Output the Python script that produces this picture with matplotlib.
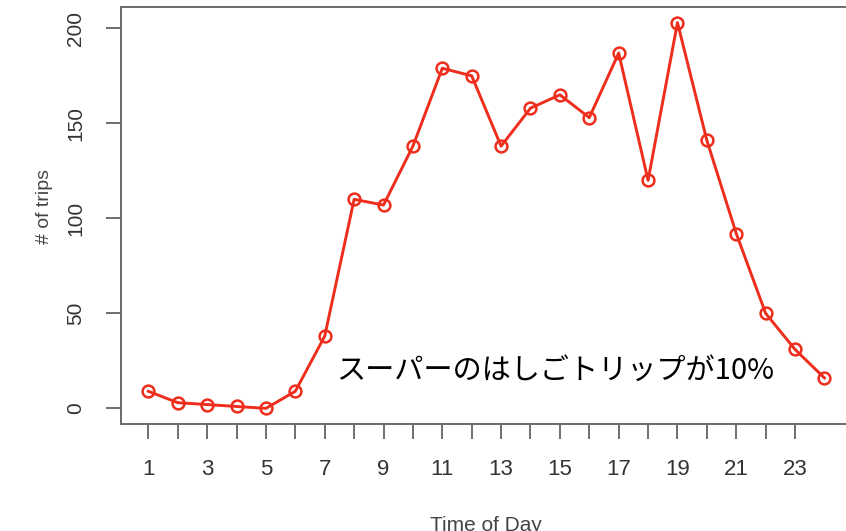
import matplotlib
matplotlib.use("Agg")
import matplotlib.pyplot as plt

# Trips by hour of day
hours = list(range(1, 25))
trips = [9, 3, 2, 1, 0, 9, 38, 110, 107, 138, 179, 175, 138, 158,
         165, 153, 187, 120, 203, 141, 92, 50, 31, 16]
xticks = list(range(1, 24))
xlabels = [str(h) if h % 2 == 1 else "" for h in xticks]
yticks = [0, 50, 100, 150, 200]
ylabels = ["0", "50", "100", "150", "200"]
note = "スーパーのはしごトリップが10%"
xtitle = "Time of Day"
ytitle = "# of trips"

W, H = 846, 531
fig = plt.figure(figsize=(W / 100, H / 100), dpi=100)
fig.patch.set_facecolor("white")

left_px, right_px, top_px, bottom_px = 121.3, 851.5, 7.2, 423.8
ax = fig.add_axes([left_px / W, 1 - bottom_px / H,
                   (right_px - left_px) / W, (bottom_px - top_px) / H])
ax.set_xlim(0.08, 24.92)
ax.set_ylim(-8.12, 211.12)

red = "#ee2d1c"
ax.plot(hours, trips, color=red, lw=2.1, marker="o", ms=8.5, mfc="none",
        mec=red, mew=1.8, zorder=3)

for s in ax.spines.values():
    s.set_color("#6a6a6a")
    s.set_linewidth(1.4)

ax.set_xticks(xticks)
ax.set_xticklabels(xlabels)
ax.set_yticks(yticks)
ax.set_yticklabels(ylabels, rotation=90, va="center")
ax.tick_params(axis="both", length=11, width=1.2, color="#555555",
               labelcolor="#333333", labelfontfamily="Liberation Sans")
ax.tick_params(axis="x", pad=14, labelsize=16)
ax.tick_params(axis="y", pad=15, labelsize=15)

fig.text(486 / W, 1 - 516 / H, xtitle, ha="center", va="top",
         fontsize=15, color="#444444", family="Liberation Sans")
fig.text(44 / W, 1 - 206 / H, ytitle, ha="center", va="center",
         rotation=90, fontsize=14, color="#444444", family="Liberation Sans")

ax.annotate(note, xy=(555 / W, 1 - 371 / H), xycoords="figure fraction",
            ha="center", va="center", fontsize=21, color="black",
            family=["Noto Sans CJK JP", "DejaVu Sans"])

fig.savefig("out.png", dpi=100, facecolor="white")
